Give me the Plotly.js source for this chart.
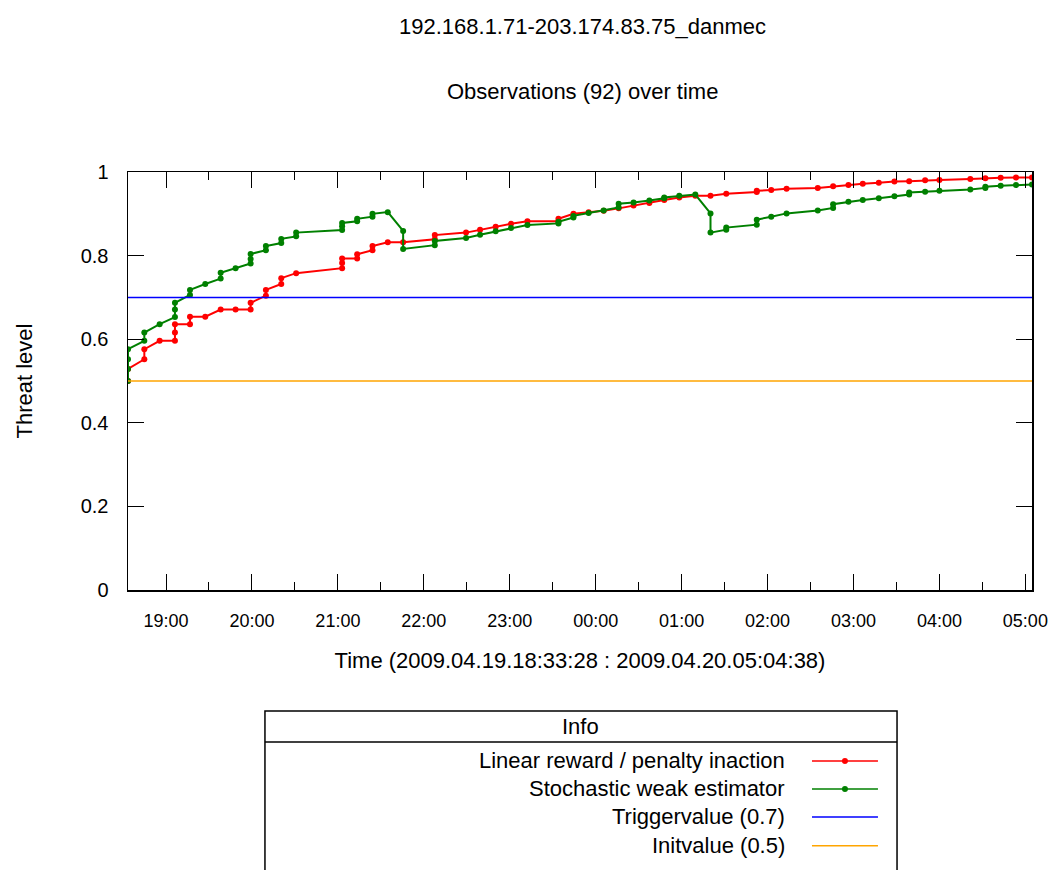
<!DOCTYPE html>
<html>
<head>
<meta charset="utf-8">
<script src="https://cdn.plot.ly/plotly-3.0.1.min.js"></script>
<style>
  html, body { margin: 0; padding: 0; background: #fff; }
  #chart { width: 1050px; height: 870px; }
</style>
</head>
<body>
<div id="chart"></div>
<script>
// ---- Data ----
const chartTitle = "192.168.1.71-203.174.83.75_danmec";
const chartSubtitle = "Observations (92) over time";
const xTitle = "Time (2009.04.19.18:33:28 : 2009.04.20.05:04:38)";
const yTitle = "Threat level";
const timeStart = "2009-04-19 18:33:28";
const timeEnd = "2009-04-20 05:04:38";

const redName = "Linear reward / penalty inaction";
const redTimes = [
  "2009-04-19 18:33:28","2009-04-19 18:33:28","2009-04-19 18:44:52","2009-04-19 18:44:52",
  "2009-04-19 18:55:34","2009-04-19 19:06:15","2009-04-19 19:06:15","2009-04-19 19:06:15",
  "2009-04-19 19:16:45","2009-04-19 19:16:45","2009-04-19 19:27:25","2009-04-19 19:38:10",
  "2009-04-19 19:48:35","2009-04-19 19:59:05","2009-04-19 19:59:05","2009-04-19 20:09:45",
  "2009-04-19 20:09:45","2009-04-19 20:20:28","2009-04-19 20:20:28","2009-04-19 20:30:52",
  "2009-04-19 21:02:58","2009-04-19 21:02:58","2009-04-19 21:02:58","2009-04-19 21:13:28",
  "2009-04-19 21:13:28","2009-04-19 21:24:10","2009-04-19 21:24:10","2009-04-19 21:34:50",
  "2009-04-19 21:45:34","2009-04-19 22:07:40","2009-04-19 22:07:40","2009-04-19 22:29:30",
  "2009-04-19 22:39:16","2009-04-19 22:50:10","2009-04-19 23:00:52","2009-04-19 23:12:20",
  "2009-04-19 23:34:00","2009-04-19 23:34:00","2009-04-19 23:44:28","2009-04-19 23:55:05",
  "2009-04-20 00:05:34","2009-04-20 00:16:02","2009-04-20 00:26:28","2009-04-20 00:37:28",
  "2009-04-20 00:47:52","2009-04-20 00:58:22","2009-04-20 01:09:34","2009-04-20 01:20:10",
  "2009-04-20 01:31:10","2009-04-20 01:52:28","2009-04-20 01:52:28","2009-04-20 02:02:34",
  "2009-04-20 02:13:16","2009-04-20 02:35:04","2009-04-20 02:45:46","2009-04-20 02:56:28",
  "2009-04-20 03:06:28","2009-04-20 03:17:40","2009-04-20 03:28:34","2009-04-20 03:38:52",
  "2009-04-20 03:50:00","2009-04-20 04:00:00","2009-04-20 04:21:34","2009-04-20 04:32:04",
  "2009-04-20 04:42:46","2009-04-20 04:53:28","2009-04-20 05:04:38"
];
const redValues = [
  0.500,0.529,0.552,0.576,
  0.596,0.596,0.616,0.636,
  0.636,0.654,0.654,0.671,
  0.671,0.671,0.687,0.704,
  0.718,0.732,0.746,0.758,
  0.770,0.782,0.793,0.793,
  0.803,0.813,0.823,0.832,
  0.832,0.839,0.849,0.855,
  0.862,0.869,0.876,0.882,
  0.882,0.888,0.900,0.904,
  0.907,0.913,0.920,0.926,
  0.933,0.939,0.943,0.943,
  0.948,0.952,0.955,0.957,
  0.960,0.962,0.966,0.969,
  0.972,0.974,0.977,0.978,
  0.980,0.981,0.983,0.985,
  0.986,0.987,0.987
];

const greenName = "Stochastic weak estimator";
const greenTimes = [
  "2009-04-19 18:33:28","2009-04-19 18:33:28","2009-04-19 18:33:28","2009-04-19 18:33:28",
  "2009-04-19 18:44:52","2009-04-19 18:44:52","2009-04-19 18:55:34","2009-04-19 19:06:15",
  "2009-04-19 19:06:15","2009-04-19 19:06:15","2009-04-19 19:16:45","2009-04-19 19:16:45",
  "2009-04-19 19:27:25","2009-04-19 19:38:10","2009-04-19 19:38:10","2009-04-19 19:48:35",
  "2009-04-19 19:59:05","2009-04-19 19:59:05","2009-04-19 19:59:05","2009-04-19 20:09:45",
  "2009-04-19 20:09:45","2009-04-19 20:20:28","2009-04-19 20:20:28","2009-04-19 20:30:52",
  "2009-04-19 20:30:52","2009-04-19 21:02:58","2009-04-19 21:02:58","2009-04-19 21:02:58",
  "2009-04-19 21:13:28","2009-04-19 21:13:28","2009-04-19 21:24:10","2009-04-19 21:24:10",
  "2009-04-19 21:34:50","2009-04-19 21:45:34","2009-04-19 21:45:34","2009-04-19 22:07:40",
  "2009-04-19 22:07:40","2009-04-19 22:29:30","2009-04-19 22:39:16","2009-04-19 22:50:10",
  "2009-04-19 23:00:52","2009-04-19 23:12:20","2009-04-19 23:34:00","2009-04-19 23:34:00",
  "2009-04-19 23:44:28","2009-04-19 23:44:28","2009-04-19 23:55:05","2009-04-20 00:05:34",
  "2009-04-20 00:16:02","2009-04-20 00:16:02","2009-04-20 00:26:28","2009-04-20 00:37:28",
  "2009-04-20 00:47:52","2009-04-20 00:47:52","2009-04-20 00:58:22","2009-04-20 01:09:34",
  "2009-04-20 01:20:10","2009-04-20 01:20:10","2009-04-20 01:31:10","2009-04-20 01:31:10",
  "2009-04-20 01:52:28","2009-04-20 01:52:28","2009-04-20 02:02:34","2009-04-20 02:13:16",
  "2009-04-20 02:35:04","2009-04-20 02:45:46","2009-04-20 02:45:46","2009-04-20 02:56:28",
  "2009-04-20 03:06:28","2009-04-20 03:17:40","2009-04-20 03:28:34","2009-04-20 03:38:52",
  "2009-04-20 03:38:52","2009-04-20 03:50:00","2009-04-20 04:00:00","2009-04-20 04:21:34",
  "2009-04-20 04:32:04","2009-04-20 04:32:04","2009-04-20 04:42:46","2009-04-20 04:53:28",
  "2009-04-20 05:04:38"
];
const greenValues = [
  0.500,0.529,0.552,0.576,
  0.596,0.616,0.636,0.653,
  0.671,0.687,0.706,0.718,
  0.732,0.745,0.759,0.770,
  0.781,0.792,0.804,0.813,
  0.823,0.830,0.840,0.846,
  0.855,0.861,0.870,0.878,
  0.882,0.888,0.893,0.900,
  0.904,0.859,0.816,0.825,
  0.835,0.842,0.850,0.858,
  0.866,0.873,0.877,0.881,
  0.891,0.895,0.902,0.908,
  0.915,0.924,0.927,0.932,
  0.937,0.939,0.943,0.946,
  0.901,0.855,0.862,0.867,
  0.874,0.886,0.893,0.901,
  0.908,0.914,0.923,0.929,
  0.933,0.937,0.942,0.946,
  0.951,0.953,0.955,0.958,
  0.962,0.965,0.967,0.969,
  0.970
];

const triggerName = "Triggervalue (0.7)";
const triggerValue = 0.7;
const initName = "Initvalue (0.5)";
const initValue = 0.5;
const legendTitle = "Info";

// ---- Styles ----
const FONT = "Liberation Sans, Arial, sans-serif";
const RED = "#ff0000", GREEN = "#008000", BLUE = "#0000ff", ORANGE = "#ffa500";
const TXT = 22;

const traces = [
  {x: redTimes, y: redValues, name: redName, mode: "lines+markers", type: "scatter",
   line: {color: RED, width: 2}, marker: {color: RED, size: 6}},
  {x: greenTimes, y: greenValues, name: greenName, mode: "lines+markers", type: "scatter",
   line: {color: GREEN, width: 2}, marker: {color: GREEN, size: 6}},
  {x: [timeStart, timeEnd], y: [triggerValue, triggerValue], name: triggerName, mode: "lines",
   type: "scatter", line: {color: BLUE, width: 1.5}},
  {x: [timeStart, timeEnd], y: [initValue, initValue], name: initName, mode: "lines",
   type: "scatter", line: {color: ORANGE, width: 1.5}}
];

// Legend box (drawn in paper coordinates below the plot)
const legX0 = 0.1515, legX1 = 0.8507;
const legTop = -0.2895, legHeaderBottom = -0.3636, legBottom = -0.72;
const legRows = [
  {name: redName, color: RED, marker: true, y: -0.409},
  {name: greenName, color: GREEN, marker: true, y: -0.476},
  {name: triggerName, color: BLUE, marker: false, y: -0.543},
  {name: initName, color: ORANGE, marker: false, y: -0.612}
];
const sampleX0 = 0.7566, sampleX1 = 0.8296, sampleMid = 0.7931, textRight = 0.7290;

const shapes = [
  {type: "rect", xref: "paper", yref: "paper", x0: legX0, x1: legX1, y0: legBottom, y1: legTop,
   line: {color: "black", width: 1.5}, fillcolor: "rgba(0,0,0,0)"},
  {type: "line", xref: "paper", yref: "paper", x0: legX0, x1: legX1, y0: legHeaderBottom, y1: legHeaderBottom,
   line: {color: "black", width: 1.5}}
];
const annotations = [
  {text: chartTitle, xref: "paper", yref: "paper", x: 0.503, y: (590 - 27) / 418, showarrow: false,
   xanchor: "center", yanchor: "middle", font: {family: FONT, size: TXT, color: "black"}},
  {text: chartSubtitle, xref: "paper", yref: "paper", x: 0.503, y: (590 - 91) / 418, showarrow: false,
   xanchor: "center", yanchor: "middle", font: {family: FONT, size: TXT, color: "black"}},
  {text: legendTitle, xref: "paper", yref: "paper", x: (legX0 + legX1) / 2, y: (legTop + legHeaderBottom) / 2,
   showarrow: false, xanchor: "center", yanchor: "middle", font: {family: FONT, size: TXT, color: "black"}}
];
legRows.forEach(r => {
  annotations.push({text: r.name, xref: "paper", yref: "paper", x: textRight, y: r.y, showarrow: false,
    xanchor: "right", yanchor: "middle", font: {family: FONT, size: TXT, color: "black"}});
  shapes.push({type: "line", xref: "paper", yref: "paper", x0: sampleX0, x1: sampleX1, y0: r.y, y1: r.y,
    line: {color: r.color, width: 1.5}});
  if (r.marker) {
    const rx = 3 / 904, ry = 3 / 418;
    shapes.push({type: "circle", xref: "paper", yref: "paper", x0: sampleMid - rx, x1: sampleMid + rx,
      y0: r.y - ry, y1: r.y + ry, fillcolor: r.color, line: {color: r.color, width: 0}});
  }
});

const layout = {
  width: 1050, height: 870,
  margin: {l: 128, r: 18, t: 172, b: 280, pad: 0},
  paper_bgcolor: "white", plot_bgcolor: "white",
  showlegend: false,
  font: {family: FONT, color: "black"},
  xaxis: {
    type: "date", range: [timeStart, timeEnd],
    tick0: "2009-04-19 19:00:00", dtick: 3600000, tickformat: "%H:%M",
    ticks: "inside", ticklen: 16, tickwidth: 1, tickcolor: "black",
    minor: {tick0: "2009-04-19 18:30:00", dtick: 1800000, ticks: "inside", ticklen: 8, tickcolor: "black", showgrid: false},
    showline: true, linecolor: "black", linewidth: 1.5, mirror: "allticks",
    showgrid: false, zeroline: false,
    tickfont: {family: FONT, size: 18, color: "black"},
    ticklabelstandoff: 14,
    title: {text: xTitle, font: {family: FONT, size: TXT, color: "black"}, standoff: 22}
  },
  yaxis: {
    range: [0, 1], tick0: 0, dtick: 0.2,
    ticks: "inside", ticklen: 16, tickwidth: 1, tickcolor: "black",
    showline: true, linecolor: "black", linewidth: 1.5, mirror: "allticks",
    showgrid: false, zeroline: false,
    tickfont: {family: FONT, size: 20, color: "black"},
    ticklabelstandoff: 14,
    title: {text: yTitle, font: {family: FONT, size: TXT, color: "black"}, standoff: 42}
  },
  shapes: shapes,
  annotations: annotations
};

Plotly.newPlot("chart", traces, layout, {displayModeBar: false, staticPlot: true});
</script>
</body>
</html>
